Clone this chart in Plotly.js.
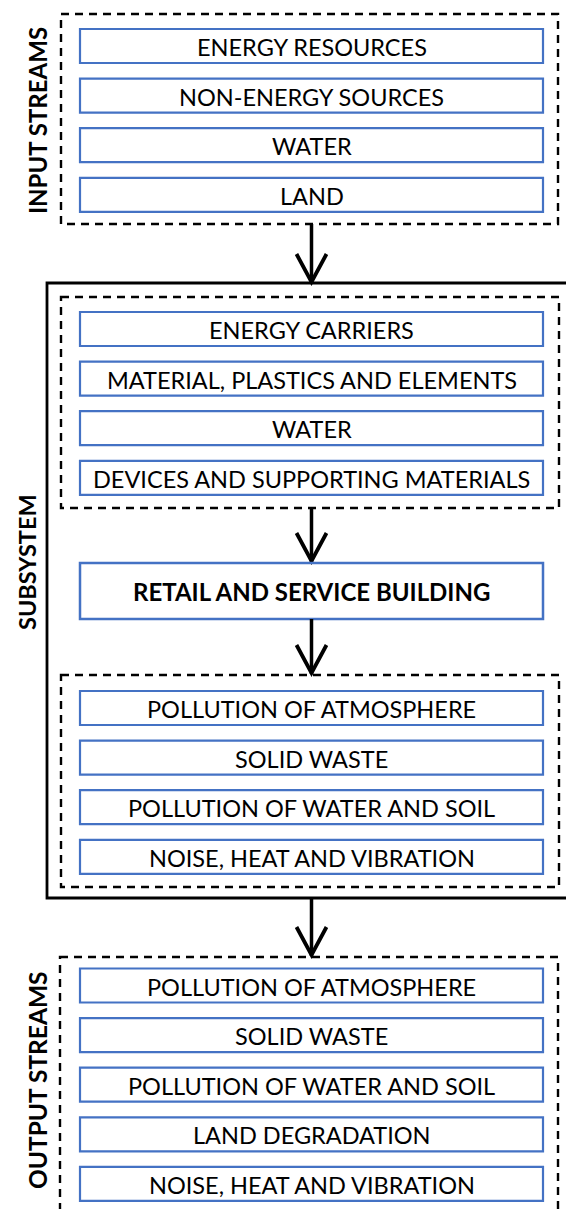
<!DOCTYPE html>
<html>
<head>
<meta charset="utf-8">
<script src="https://cdn.plot.ly/plotly-3.0.1.min.js"></script>
<style>html,body{margin:0;padding:0;background:#fff;}#chart{width:566px;height:1209px;}</style>
</head>
<body>
<div id="chart"></div>
<script>
// ---- content ----
const groupLabels = ["INPUT STREAMS", "SUBSYSTEM", "OUTPUT STREAMS"];
const inputStreams = ["ENERGY RESOURCES", "NON-ENERGY SOURCES", "WATER", "LAND"];
const subsystemInputs = ["ENERGY CARRIERS", "MATERIAL, PLASTICS AND ELEMENTS", "WATER", "DEVICES AND SUPPORTING MATERIALS"];
const coreProcess = ["RETAIL AND SERVICE BUILDING"];
const subsystemOutputs = ["POLLUTION OF ATMOSPHERE", "SOLID WASTE", "POLLUTION OF WATER AND SOIL", "NOISE, HEAT AND VIBRATION"];
const outputStreams = ["POLLUTION OF ATMOSPHERE", "SOLID WASTE", "POLLUTION OF WATER AND SOIL", "LAND DEGRADATION", "NOISE, HEAT AND VIBRATION"];

// ---- layout geometry (pixels, y downward) ----
const W = 566, H = 1209;
const BOX_L = 80, BOX_R = 543, BOX_H = 34, PITCH = 49.6;
const CX = 311.5;
const BLUE = "#4472C4";
const FONT = "Lato, 'Open Sans', sans-serif";

const shapes = [];
const annotations = [];

function rect(x0, y0, x1, y1, color, width, dash) {
  shapes.push({type: "rect", xref: "x", yref: "y", x0, y0, x1, y1,
    line: {color, width, dash: dash || "solid"}, fillcolor: "rgba(0,0,0,0)", layer: "above"});
}
function label(text, x, y, size, bold, angle) {
  annotations.push({xref: "x", yref: "y", x, y, text: bold ? "<b>" + text + "</b>" : text,
    showarrow: false, textangle: angle || 0, xanchor: "center", yanchor: "middle",
    font: {family: FONT, size, color: "#000"}});
}
function stack(items, top) {
  items.forEach((t, i) => {
    const y0 = top + i * PITCH;
    rect(BOX_L, y0, BOX_R, y0 + BOX_H, BLUE, 2.2);
    label(t, CX, y0 + BOX_H / 2 + 1, 23.5, false);
  });
}
function arrow(y0, y1) {
  shapes.push({type: "line", xref: "x", yref: "y", x0: CX, x1: CX, y0, y1,
    line: {color: "#000", width: 3.5}});
  shapes.push({type: "path", xref: "x", yref: "y",
    path: `M ${CX - 15} ${y1 - 29} L ${CX} ${y1 - 1} L ${CX + 15} ${y1 - 29}`,
    line: {color: "#000", width: 3.8}});
}
const DASH = "8px,6px";

// Input streams group
rect(61, 14, 558, 224, "#000", 2.4, DASH);
stack(inputStreams, 29);
label(groupLabels[0], 37, 121, 24, true, -90);

arrow(224, 283);

// Subsystem frame
rect(47, 283, 580, 898, "#000", 2.8);
label(groupLabels[1], 27, 562, 23.5, true, -90);

rect(61, 297, 559, 508, "#000", 2.4, DASH);
stack(subsystemInputs, 312);

arrow(508, 562);

rect(BOX_L, 563, BOX_R, 619, BLUE, 2.5);
label(coreProcess[0], CX, 591, 24, true);

arrow(619, 674);

rect(61, 675, 559, 887, "#000", 2.4, DASH);
stack(subsystemOutputs, 691);

arrow(898, 956);

// Output streams group
rect(60, 957, 558, 1230, "#000", 2.4, DASH);
stack(outputStreams, 968.5);
label(groupLabels[2], 37, 1080, 24.5, true, -90);

const layout = {
  width: W, height: H,
  margin: {l: 0, r: 0, t: 0, b: 0},
  paper_bgcolor: "#fff", plot_bgcolor: "#fff",
  xaxis: {range: [0, W], visible: false, fixedrange: true},
  yaxis: {range: [H, 0], visible: false, fixedrange: true},
  showlegend: false,
  shapes, annotations
};
Plotly.newPlot("chart", [], layout, {staticPlot: true, displayModeBar: false});
</script>
</body>
</html>
